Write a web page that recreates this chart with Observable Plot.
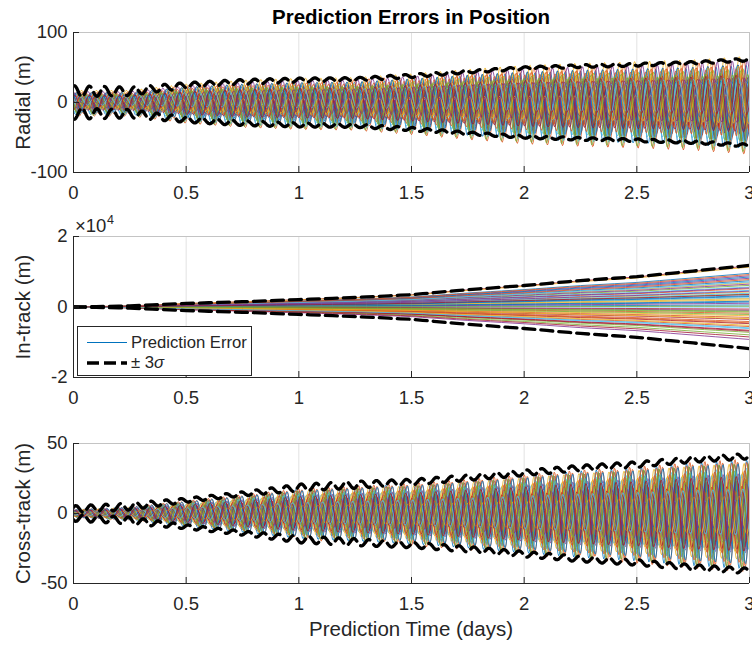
<!DOCTYPE html>
<html><head><meta charset="utf-8">
<script src="https://cdn.jsdelivr.net/npm/d3@7"></script>
<script src="https://cdn.jsdelivr.net/npm/@observablehq/plot@0.6"></script>
<style>
html,body{margin:0;padding:0;background:#fff;overflow:hidden;}
#chart{position:relative;width:752px;height:645px;font-family:"Liberation Sans",Arial,sans-serif;color:#262626;}
#chart > svg{position:absolute;left:0;}
.txt{position:absolute;white-space:nowrap;z-index:5;}
.legend{position:absolute;box-sizing:border-box;background:#fff;border:0.7px solid #262626;z-index:6;}
</style></head>
<body><div id="chart"></div>
<script>
// ---------- data ----------
const knotDays = [0, 0.25, 0.5, 0.75, 1, 1.25, 1.5, 1.75, 2, 2.25, 2.5, 2.75, 3];
// +/-3 sigma bound (centre of the scallops) and scallop half-height, per knot
const radialBound   = [16, 16, 24.5, 29.5, 32, 33, 38, 44, 49, 52, 54, 56.5, 61.5];
const radialScallop = [8, 6, 4, 3.5, 3, 2.5, 2.5, 2, 2, 2, 2, 2, 2];
const intrackBound  = [0, 300, 1000, 1500, 2100, 2700, 3500, 4900, 6100, 7500, 8600, 10200, 11800];
const crossBound    = [3, 5, 9.5, 14, 18.5, 20.5, 22.5, 25.5, 29, 32.5, 35, 38.5, 41];
const crossScallop  = [2.5, 2.5, 1.5, 1.5, 2.5, 2.5, 2, 2, 2, 2, 2, 2, 2];
const orbitPeriodDays = 0.0667;   // one oscillation ~ 15 px ~ 96 min

// Monte-Carlo traces: oscillation size, offset, phase (in sigma units) and in-track fraction of bound
const traceAmp = [1.8,0.9,2.3,1.2,0.5,2.0,1.5, 2.6,1.1,0.7,1.9,1.4,2.2,0.4, 1.6,2.4,1.0,0.8,2.1,1.3,1.7,
  0.6,2.5,1.5,1.9,0.9,2.2,1.2, 2.0,1.4,0.3,2.3,1.1,1.8,1.6, 0.8,2.7,1.3,1.0,2.1,0.5,1.7,
  2.4,1.2,1.9,0.7,1.5,2.2,1.0, 1.6,2.0,0.9,1.4,2.5,1.1,1.8];
const traceOffset = [0.3,-0.6,0.9,-0.2,0.5,-1.0,0.1, -0.4,0.7,-0.8,0.2,1.1,-0.3,0.6, -0.9,0.4,-0.1,0.8,-0.5,0.0,-1.1,
  0.6,-0.2,0.9,-0.7,0.3,-0.4,1.0, -0.6,0.2,-0.9,0.5,-0.3,0.7,-0.1, 0.4,-0.8,0.1,0.9,-0.5,1.2,-0.2,
  0.0,-0.7,0.6,-0.4,0.8,-1.0,0.3, -0.3,0.5,-0.6,0.2,-0.9,0.7,-0.1];
const tracePhase = [0.4,2.1,4.5,1.3,5.6,3.0,0.9, 3.8,1.7,5.1,0.2,2.7,4.0,6.0, 1.1,3.4,5.3,0.7,2.4,4.8,1.9,
  5.8,0.5,3.1,2.0,4.3,1.5,5.5, 2.9,0.1,4.6,1.8,3.6,5.9,0.8, 4.1,2.3,5.0,0.6,3.3,1.4,4.9,
  0.3,2.6,5.4,1.0,3.9,2.2,5.7, 1.6,4.4,0.0,3.5,2.8,5.2,1.2];
const intrackFraction = [0.12,-0.35,0.58,-0.08,0.31,-0.52,0.99, 0.05,0.44,-0.21,0.69,-0.61,0.22,-0.4,
  0.81,-0.15,0.36,-0.78,0.52,0.0,-0.3, 0.63,-0.47,0.17,0.75,-0.1,0.4,-0.56, 0.27,-0.25,0.96,0.09,-0.67,0.48,-0.05,
  0.72,-0.38,0.2,0.55,-0.18,0.33,-0.72, 0.14,0.66,-0.44,0.38,-0.12,0.6,-0.58, 0.25,0.78,-0.28,0.46,0.02,-0.5,0.3];
const matlabColors = ["#0072BD","#D95319","#EDB120","#7E2F8E","#77AC30","#4DBEEE","#A2142F"];

const xTicks = [0, 0.5, 1, 1.5, 2, 2.5, 3];
const radialTicks = [-100, 0, 100];
const intrackTicks = [-20000, 0, 20000];
const crossTicks = [-50, 0, 50];

// ---------- build tables ----------
const omega = 2 * Math.PI / orbitPeriodDays;
const fine = d3.range(0, 901).map(i => 3 * i / 900);
const coarse = d3.range(0, 61).map(i => 3 * i / 60);
const sR = d3.scaleLinear(knotDays, radialBound), scR = d3.scaleLinear(knotDays, radialScallop);
const sI = d3.scaleLinear(knotDays, intrackBound);
const sC = d3.scaleLinear(knotDays, crossBound), scC = d3.scaleLinear(knotDays, crossScallop);

const radialTraces = [], crossTraces = [], intrackTraces = [];
traceAmp.forEach((a, k) => {
  const c = matlabColors[k % 7];
  const wR = omega * (1 + 0.006 * traceOffset[k]);          // slight period spread between runs
  const wC = omega * (1 + 0.0015 * traceOffset[k]);
  for (const t of fine) {
    radialTraces.push({t, v: sR(t) / 3 * (1.12 * a * Math.sin(wR * t + tracePhase[k]) + 0.75 * traceOffset[k]), k, c});
    crossTraces.push({t, v: sC(t) / 3 * (1.1 * a * Math.sin(wC * t + 0.8 * tracePhase[k]) + 0.12 * traceOffset[k]), k, c});
  }
  for (const t of coarse) intrackTraces.push({t, v: intrackFraction[k] * sI(t), k, c});
});
const radialBounds = [], crossBounds = [], intrackBounds = [];
for (const side of [1, -1]) {
  for (const t of fine) {
    radialBounds.push({t, side, v: side * (sR(t) + scR(t) * Math.sin(omega * t + 1.2))});
    crossBounds.push({t, side, v: side * (sC(t) + scC(t) * Math.sin(omega * t + 0.6))});
  }
  for (const t of coarse) intrackBounds.push({t, side, v: side * sI(t)});
}

// ---------- panels ----------
const W = 752, ML = 73, MR = 3;
function panel({top, height, mt, mb, domain, ticks, fmt, label, traces, bounds}) {
  const innerH = height - mt - mb, innerW = W - ML - MR;
  const svg = Plot.plot({
    width: W, height, marginLeft: ML, marginRight: MR, marginTop: mt, marginBottom: mb,
    style: {fontFamily: '"Liberation Sans", Arial, sans-serif', fontSize: "18.5px", color: "#262626", background: "transparent"},
    x: {domain: [0, 3], axis: null},
    y: {domain, axis: null},
    color: {type: "identity"},
    marks: [
      Plot.ruleX(xTicks.slice(1, -1), {stroke: "#e2e2e2", strokeWidth: 1}),
      Plot.line(traces, {x: "t", y: "v", z: "k", stroke: "c", strokeWidth: 0.8, clip: true}),
      Plot.line(bounds, {x: "t", y: "v", z: "side", stroke: "#000", strokeWidth: 3.3, strokeDasharray: "12,6", clip: true}),
      Plot.ruleY([domain[1]], {stroke: "#c4c4c4", strokeWidth: 1}),
      Plot.ruleX([3], {stroke: "#c4c4c4", strokeWidth: 1}),
      Plot.ruleY([domain[0]], {stroke: "#262626", strokeWidth: 1}),
      Plot.ruleX([0], {stroke: "#262626", strokeWidth: 1}),
      Plot.tickX(xTicks, {x: d => d, stroke: "#262626", insetTop: innerH - 6}),
      Plot.tickY(ticks, {y: d => d, stroke: "#262626", insetRight: innerW - 6}),
      Plot.axisX({ticks: xTicks, tickSize: 0, tickPadding: 13, tickFormat: d => String(d), label: null, fill: "#262626"}),
      Plot.axisY({ticks, tickSize: 0, tickPadding: 6, tickFormat: fmt, label: null, fill: "#262626"}),
      Plot.text([label], {text: d => d, frameAnchor: "left", textAnchor: "middle", rotate: -90, dx: -50, fontSize: 20.5, fill: "#262626"})
    ]
  });
  svg.style.top = top + "px";
  return svg;
}

const chart = document.getElementById("chart");
chart.appendChild(panel({top: 0, height: 215, mt: 32, mb: 43, domain: [-100, 100], ticks: radialTicks,
  fmt: d => String(d), label: "Radial (m)", traces: radialTraces, bounds: radialBounds}));
chart.appendChild(panel({top: 215, height: 205, mt: 21, mb: 43, domain: [-20000, 20000], ticks: intrackTicks,
  fmt: d => String(d / 10000), label: "In-track (m)", traces: intrackTraces, bounds: intrackBounds}));
chart.appendChild(panel({top: 420, height: 225, mt: 23, mb: 62, domain: [-50, 50], ticks: crossTicks,
  fmt: d => String(d), label: "Cross-track (m)", traces: crossTraces, bounds: crossBounds}));

// ---------- texts & legend ----------
function addText(html, css) {
  const d = document.createElement("div");
  d.className = "txt"; d.innerHTML = html; Object.assign(d.style, css); chart.appendChild(d); return d;
}
addText("Prediction Errors in Position", {left: "0px", width: "822px", textAlign: "center", top: "5px",
  fontSize: "20.5px", lineHeight: "24px", fontWeight: "bold", color: "#000"});
addText("Prediction Time (days)", {left: "0px", width: "822px", textAlign: "center", top: "617px",
  fontSize: "20.5px", lineHeight: "24px", color: "#262626"});
addText("&times;10", {left: "75px", top: "215px", fontSize: "18.5px", lineHeight: "22px", color: "#262626"});
addText("4", {left: "107px", top: "212px", fontSize: "12.5px", lineHeight: "16px", color: "#262626"});

const lg = document.createElement("div");
lg.className = "legend";
Object.assign(lg.style, {left: "77px", top: "326px", width: "175px", height: "50px"});
lg.innerHTML = `<svg width="175" height="50" style="position:absolute;left:0;top:0">
  <line x1="9" x2="49" y1="15.5" y2="15.5" stroke="#0072BD" stroke-width="1"/>
  <line x1="9" x2="49" y1="36" y2="36" stroke="#000" stroke-width="3.3" stroke-dasharray="12,5"/></svg>
  <div style="position:absolute;left:53px;top:5.5px;font-size:16.7px;line-height:20px;color:#262626;white-space:nowrap">Prediction Error</div>
  <div style="position:absolute;left:53px;top:26px;font-size:16.7px;line-height:20px;color:#262626;white-space:nowrap">&plusmn; 3<i>&sigma;</i></div>`;
chart.appendChild(lg);
</script></body></html>
